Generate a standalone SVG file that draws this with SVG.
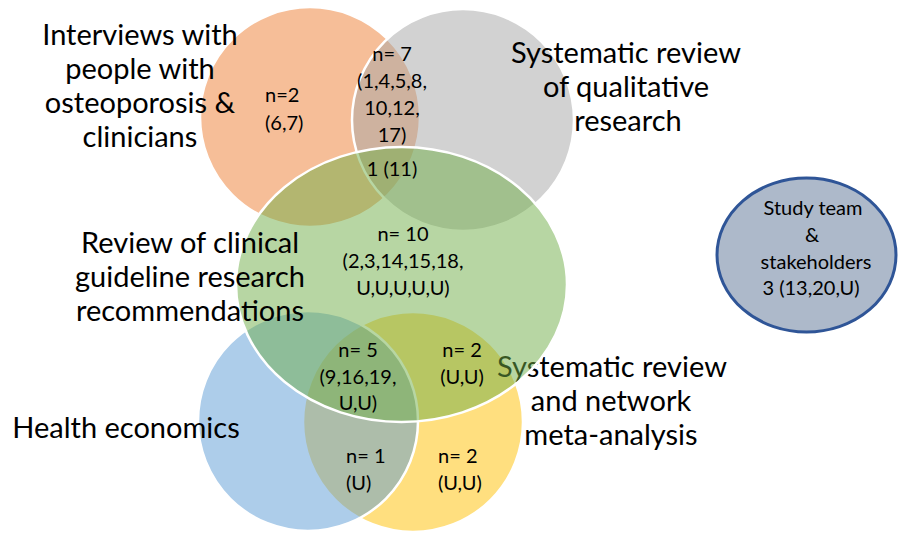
<svg xmlns="http://www.w3.org/2000/svg" width="899" height="534" viewBox="0 0 899 534">
  <style>
    .set { fill-opacity: 0.5; stroke: #FFFFFF; stroke-width: 2.5; }
    .big { font-family: Lato, "Open Sans", "Liberation Sans", sans-serif; font-size: 29px; fill: #000000; text-anchor: middle; }
    .num { font-family: Lato, "Open Sans", "Liberation Sans", sans-serif; font-size: 20px; fill: #000000; text-anchor: middle; }
    .num.left { text-anchor: start; }
  </style>
  <rect width="899" height="534" fill="#FFFFFF"/>

  <!-- Venn sets, bottom to top -->
  <g id="set-interviews">
    <circle class="set" cx="310" cy="117" r="110" fill="#ED7D31"/>
  </g>
  <g id="set-qualitative-review">
    <circle class="set" cx="463" cy="120" r="111" fill="#A5A5A5"/>
  </g>
  <g id="set-network-meta-analysis">
    <circle class="set" cx="413" cy="422" r="110" fill="#FFC000"/>
  </g>
  <g id="set-health-economics">
    <circle class="set" cx="308" cy="421" r="110" fill="#5B9BD5"/>
  </g>
  <!-- this label sits beneath the guideline ellipse -->
  <g id="label-network-meta-analysis">
    <text class="big" x="612" y="377">Systematic review</text>
    <text class="big" x="611" y="411">and network</text>
    <text class="big" x="611" y="445">meta-analysis</text>
  </g>
  <g id="set-guidelines">
    <ellipse class="set" cx="401.5" cy="284.5" rx="165.5" ry="137.5" fill="#70AD47"/>
  </g>

  <!-- set titles -->
  <g id="label-interviews">
    <text class="big" x="140" y="45">Interviews with</text>
    <text class="big" x="140" y="79">people with</text>
    <text class="big" x="140" y="113">osteoporosis &amp;</text>
    <text class="big" x="140" y="147">clinicians</text>
  </g>
  <g id="label-qualitative-review">
    <text class="big" x="626" y="63">Systematic review</text>
    <text class="big" x="626" y="97">of qualitative</text>
    <text class="big" x="628" y="131">research</text>
  </g>
  <g id="label-guidelines">
    <text class="big" x="190" y="253">Review of clinical</text>
    <text class="big" x="190" y="287">guideline research</text>
    <text class="big" x="190" y="321">recommendations</text>
  </g>
  <g id="label-health-economics">
    <text class="big" x="126" y="438">Health economics</text>
  </g>

  <!-- region counts -->
  <g id="count-interviews-only">
    <text class="num left" x="265" y="102">n=2</text>
    <text class="num left" x="265" y="130">(6,7)</text>
  </g>
  <g id="count-interviews-qualitative">
    <text class="num" x="392" y="61">n= 7</text>
    <text class="num" x="392" y="88">(1,4,5,8,</text>
    <text class="num" x="392" y="115">10,12,</text>
    <text class="num" x="392" y="142">17)</text>
  </g>
  <g id="count-three-top">
    <text class="num" x="392" y="176">1 (11)</text>
  </g>
  <g id="count-guidelines-only">
    <text class="num" x="403" y="241">n= 10</text>
    <text class="num" x="403" y="268">(2,3,14,15,18,</text>
    <text class="num" x="403" y="295">U,U,U,U,U)</text>
  </g>
  <g id="count-three-bottom">
    <text class="num" x="358" y="357">n= 5</text>
    <text class="num" x="358" y="384">(9,16,19,</text>
    <text class="num" x="358" y="410">U,U)</text>
  </g>
  <g id="count-guidelines-nma">
    <text class="num" x="462" y="357">n= 2</text>
    <text class="num" x="462" y="384">(U,U)</text>
  </g>
  <g id="count-economics-nma">
    <text class="num left" x="346" y="463">n= 1</text>
    <text class="num left" x="346" y="490">(U)</text>
  </g>
  <g id="count-nma-only">
    <text class="num left" x="438" y="463">n= 2</text>
    <text class="num left" x="438" y="490">(U,U)</text>
  </g>

  <!-- separate set -->
  <g id="set-study-team">
    <ellipse cx="806.5" cy="255" rx="89.5" ry="77" fill="#ADB9CA" stroke="#2F5597" stroke-width="3"/>
    <text class="num" x="813" y="215">Study team</text>
    <text class="num" x="812" y="242">&amp;</text>
    <text class="num" x="816" y="269">stakeholders</text>
    <text class="num" x="811" y="295">3 (13,20,U)</text>
  </g>
</svg>
